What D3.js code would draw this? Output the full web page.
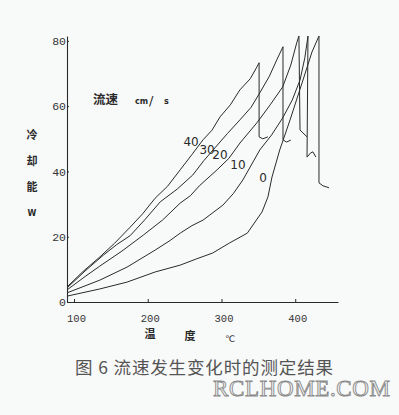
<!DOCTYPE html>
<html>
<head>
<meta charset="utf-8">
<script src="https://cdn.jsdelivr.net/npm/d3@7"></script>
<style>
  body { margin: 0; background: #f8f9f9; }
  svg { display: block; }
</style>
</head>
<body>
<script>
var flowRates = ["40", "30", "20", "10", "0"];

var temp40 = [90.5, 112, 135, 155, 176, 193, 210, 227, 244, 260, 275, 287, 298, 312, 325, 339, 348, 351, 351, 356, 363];
var cool40 = [4.6, 9.3, 13.8, 18.0, 22.9, 27.0, 31.8, 35.5, 40.5, 45.2, 49.7, 52.6, 56.7, 60.4, 65.0, 68.4, 72.0, 73.3, 50.6, 50.0, 50.6];

var temp30 = [90.5, 115, 140, 158, 176, 196, 217, 240, 261, 276, 291, 308, 325, 340, 352, 365, 375, 383.4, 383.4, 388, 394];
var cool30 = [4.3, 9.5, 14.4, 17.6, 20.3, 25.2, 30.7, 34.6, 38.9, 43.3, 47.2, 51.6, 55.8, 59.6, 64.1, 69.2, 74.2, 78.2, 49.7, 49.0, 49.6];

var temp20 = [90.5, 115, 135, 165, 194, 220, 244, 258, 270, 294, 310, 325, 348, 366, 383, 394, 402, 405, 406.5, 410.5, 416];
var cool20 = [3.7, 7.8, 11.0, 15.6, 20.5, 25.1, 30.3, 32.6, 35.6, 40.5, 44.0, 48.7, 54.9, 60.4, 65.9, 72.6, 79.4, 81.5, 52.7, 51.8, 50.6];

var temp10 = [90.5, 135, 172, 210, 230, 244, 260, 275, 302, 316, 329, 352, 368, 383, 396, 406.5, 413, 417.3, 416, 421, 424, 428];
var cool10 = [2.8, 6.7, 10.7, 15.9, 18.8, 21.1, 23.4, 25.1, 29.7, 33.2, 37.4, 46.6, 51.2, 56.4, 61.9, 68.0, 74.8, 81.5, 44.4, 45.7, 46.0, 44.4];

var temp0 = [90.5, 135, 172, 210, 244, 266, 288, 311, 335, 355, 363, 368.5, 379, 393, 410.5, 422.7, 432.2, 432.2, 437.6, 445.8];
var cool0 = [1.8, 4.0, 6.1, 9.2, 11.3, 13.2, 15.0, 18.1, 21.1, 27.6, 32.2, 38.3, 46.6, 55.8, 68.0, 76.6, 81.5, 36.5, 35.6, 35.0];

var xTicks = [100, 200, 300, 400];
var yTicks = [0, 20, 40, 60, 80];

// where the flow-rate numbers sit on the plot (data units)
var labelTemp = [258.7, 280.4, 298.0, 322.4, 356.3];
var labelCool = [49.0, 46.3, 44.8, 41.7, 37.7];

var series = [
  {name: flowRates[0], t: temp40, c: cool40},
  {name: flowRates[1], t: temp30, c: cool30},
  {name: flowRates[2], t: temp20, c: cool20},
  {name: flowRates[3], t: temp10, c: cool10},
  {name: flowRates[4], t: temp0, c: cool0}
];

var width = 399, height = 415;
var ink = "#2a2a2a";

var svg = d3.select("body").append("svg")
  .attr("width", width)
  .attr("height", height)
  .style("background", "#f8f9f9");

var x = d3.scaleLinear().domain([90.5, 458]).range([67, 338]);
var y = d3.scaleLinear().domain([0, 81.5]).range([302, 36]);

// axes
var xAxis = svg.append("g")
  .attr("transform", "translate(0," + y(0) + ")")
  .call(d3.axisBottom(x).tickValues(xTicks).tickSizeInner(-3).tickSizeOuter(0).tickPadding(13));
xAxis.select(".domain").attr("stroke", ink).attr("stroke-width", 1.1);
xAxis.selectAll(".tick line").attr("stroke", ink);
xAxis.selectAll("text")
  .attr("font-family", "Liberation Mono, monospace")
  .attr("font-size", 10.5)
  .attr("dx", 2)
  .attr("fill", "#333");

var yAxis = svg.append("g")
  .attr("transform", "translate(" + x(90.5) + ",0)")
  .call(d3.axisLeft(y).tickValues(yTicks).tickSizeInner(-2).tickSizeOuter(0).tickPadding(1));
yAxis.select(".domain").attr("stroke", ink).attr("stroke-width", 1.1);
yAxis.selectAll(".tick line").attr("stroke", ink);
yAxis.selectAll("text")
  .attr("font-family", "Liberation Mono, monospace")
  .attr("font-size", 11.5)
  .attr("fill", "#333");

// curves
var line = d3.line()
  .x(function(d){ return x(d[0]); })
  .y(function(d){ return y(d[1]); });

svg.append("g").selectAll("path")
  .data(series)
  .enter().append("path")
  .attr("d", function(s){ return line(d3.zip(s.t, s.c)); })
  .attr("fill", "none")
  .attr("stroke", ink)
  .attr("stroke-width", 1)
  .attr("stroke-linejoin", "round");

// flow rate labels on the curves
svg.append("g").selectAll("text")
  .data(flowRates)
  .enter().append("text")
  .attr("x", function(d, i){ return x(labelTemp[i]); })
  .attr("y", function(d, i){ return y(labelCool[i]); })
  .attr("text-anchor", "middle")
  .attr("dominant-baseline", "middle")
  .attr("font-family", "DejaVu Sans, sans-serif")
  .attr("font-size", 12)
  .attr("fill", ink)
  .text(function(d){ return d; });

// legend title
var cjk = "Noto Sans CJK SC, sans-serif";
svg.append("text")
  .attr("x", 93).attr("y", 104)
  .attr("font-family", cjk).attr("font-size", 12.5).attr("font-weight", 700)
  .attr("fill", ink)
  .text("流速");
svg.append("text")
  .attr("x", 135).attr("y", 104)
  .attr("font-family", "DejaVu Sans, sans-serif").attr("font-size", 8).attr("font-weight", 700)
  .attr("fill", ink)
  .text("cm");
svg.append("text")
  .attr("x", 149).attr("y", 105)
  .attr("font-family", "DejaVu Sans, sans-serif").attr("font-size", 13)
  .attr("fill", ink)
  .text("/");
svg.append("text")
  .attr("x", 164).attr("y", 104)
  .attr("font-family", "DejaVu Sans, sans-serif").attr("font-size", 8).attr("font-weight", 700)
  .attr("fill", ink)
  .text("s");

// y title, stacked
var yTitle = ["冷", "却", "能"];
svg.append("g").selectAll("text")
  .data(yTitle)
  .enter().append("text")
  .attr("x", 32)
  .attr("y", function(d, i){ return 139 + i * 26; })
  .attr("text-anchor", "middle")
  .attr("font-family", cjk).attr("font-size", 11).attr("font-weight", 700)
  .attr("fill", ink)
  .text(function(d){ return d; });
svg.append("text")
  .attr("x", 32).attr("y", 216)
  .attr("text-anchor", "middle")
  .attr("font-family", "DejaVu Sans, sans-serif").attr("font-size", 8).attr("font-weight", 700)
  .attr("fill", ink)
  .text("W");

// x title
svg.append("text")
  .attr("x", 150).attr("y", 338)
  .attr("text-anchor", "middle")
  .attr("font-family", cjk).attr("font-size", 11).attr("font-weight", 700)
  .attr("fill", ink).text("温");
svg.append("text")
  .attr("x", 190).attr("y", 340)
  .attr("text-anchor", "middle")
  .attr("font-family", cjk).attr("font-size", 11).attr("font-weight", 700)
  .attr("fill", ink).text("度");
svg.append("text")
  .attr("x", 230).attr("y", 342)
  .attr("text-anchor", "middle")
  .attr("font-family", "DejaVu Sans, sans-serif").attr("font-size", 9)
  .attr("fill", ink).text("℃");

// caption
svg.append("text")
  .attr("x", 75).attr("y", 374)
  .attr("font-family", cjk).attr("font-size", 17.5)
  .attr("textLength", 258)
  .attr("lengthAdjust", "spacing")
  .attr("fill", "#555")
  .text("图 6  流速发生变化时的测定结果");

// watermark
svg.append("text")
  .attr("x", 213).attr("y", 396)
  .attr("font-family", "Liberation Serif, serif").attr("font-size", 23)
  .attr("textLength", 177)
  .attr("fill", "#f2f2f2")
  .attr("stroke", "#8a8a8a")
  .attr("stroke-width", 0.9)
  .text("RCLHOME.COM");
</script>
</body>
</html>
